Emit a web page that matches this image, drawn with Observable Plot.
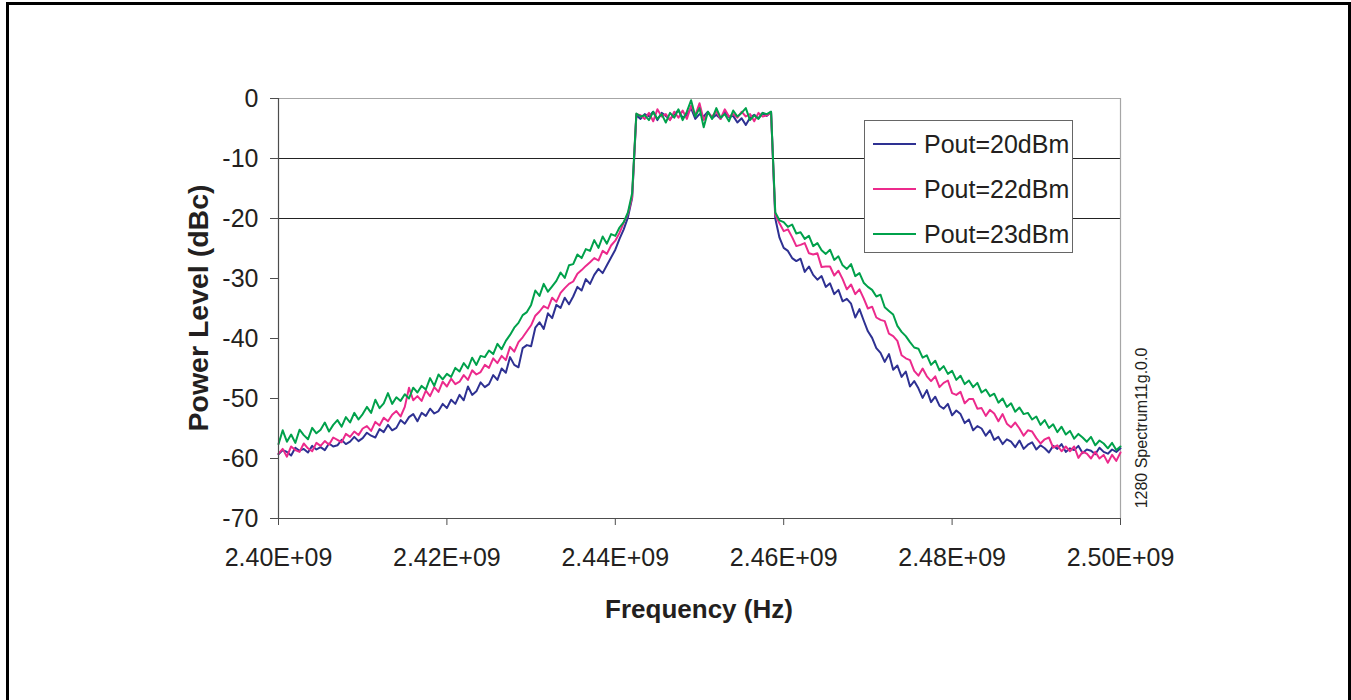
<!DOCTYPE html>
<html>
<head>
<meta charset="utf-8">
<script src="https://cdn.jsdelivr.net/npm/d3@7"></script>
<script src="https://cdn.jsdelivr.net/npm/@observablehq/plot@0.6"></script>
<style>
html, body { margin:0; padding:0; background:#fff; width:1351px; height:700px; overflow:hidden;
  font-family:"Liberation Sans", Arial, sans-serif; color:#231f20; }
#frame { position:absolute; left:6px; top:2px; width:1345px; height:720px; box-sizing:border-box;
  border:3px solid #000; border-bottom:none; }
#chart { position:absolute; left:0; top:0; }
.ttl { position:absolute; font-weight:bold; white-space:nowrap; line-height:30px; height:30px; }
#xtitle { left:699px; top:594px; font-size:26px; transform:translateX(-50%); }
#ytitle { left:198px; top:307.5px; font-size:28.5px; transform:translate(-50%,-50%) rotate(-90deg); }
#side { position:absolute; left:1142px; top:427.5px; font-size:16px; line-height:20px; white-space:nowrap;
  transform:translate(-50%,-50%) rotate(-90deg); }
#legend { position:absolute; left:864px; top:120px; width:209px; height:133px; box-sizing:border-box;
  border:1.5px solid #666; background:#fff; }
.lg-line { position:absolute; height:2px; width:43px; }
.lg-text { position:absolute; font-size:25px; line-height:30px; height:30px; white-space:nowrap; }
</style>
</head>
<body>
<div id="chart"></div>
<div id="frame"></div>
<div class="ttl" id="xtitle"></div>
<div class="ttl" id="ytitle"></div>
<div id="side"></div>
<div id="legend"></div>
<script>
// ---- Data ----
const seriesNames = ["Pout=20dBm", "Pout=22dBm", "Pout=23dBm"];
const seriesColors = ["#2e3192", "#ec2a8c", "#00a14b"];
const freqStart = 2.40e9;   // first sample (Hz)
const freqStep = 0.5e6;     // sample spacing (Hz)
const xTicks = [2.40e9, 2.42e9, 2.44e9, 2.46e9, 2.48e9, 2.50e9];
const yTicks = [0, -10, -20, -30, -40, -50, -60, -70];
const gridLevels = [-10, -20];
const xTitle = "Frequency (Hz)";
const yTitle = "Power Level (dBc)";
const sideNote = "1280 Spectrum11g.0.0";

// Pout = 20 dBm (dBc), 2.4000 .. 2.5000 GHz every 0.5 MHz
const pout20 = [
  -59.3,-58.6,-58.9,-59.5,-58.2,-58.7,-58.4,-59.0,-57.9,-58.5,
  -58.1,-58.6,-57.5,-58.0,-57.8,-56.9,-57.6,-57.2,-56.4,-57.1,
  -56.6,-55.7,-56.2,-56.5,-55.1,-55.6,-54.4,-55.3,-54.9,-53.6,
  -54.2,-53.1,-52.6,-53.8,-52.4,-52.9,-51.7,-52.5,-52.1,-50.9,
  -51.6,-50.2,-50.9,-49.4,-50.3,-48.0,-49.4,-48.8,-47.3,-48.1,
  -47.6,-46.1,-46.9,-45.0,-45.7,-43.1,-44.4,-44.8,-41.6,-41.1,
  -41.3,-38.2,-37.3,-38.4,-35.8,-36.6,-34.4,-34.9,-33.2,-34.3,
  -33.0,-31.4,-32.0,-30.1,-30.9,-29.4,-28.4,-29.1,-27.8,-26.5,
  -25.2,-23.4,-21.8,-19.8,-16.6,
  -2.8,-3.4,-2.6,-3.0,-2.2,-3.6,-2.4,-2.9,-3.5,-2.6,-2.0,-3.2,-2.8,-1.6,-3.4,-2.6,-3.0,
  -2.2,-3.3,-2.7,-3.4,-2.2,-3.1,-2.9,-4.0,-3.3,-4.4,-3.2,-2.7,-3.3,-2.4,-2.9,-2.2,
  -20.0,-23.2,-24.9,-25.4,-26.6,-27.1,-26.7,-28.9,-28.0,-29.4,
  -30.2,-29.6,-31.4,-30.8,-32.6,-31.9,-33.8,-33.4,-34.2,-36.5,
  -35.1,-37.0,-38.8,-39.9,-41.6,-42.4,-43.9,-42.6,-45.2,-44.5,
  -46.4,-45.5,-48.0,-47.1,-48.3,-49.9,-48.6,-50.6,-49.7,-51.2,
  -51.7,-50.9,-52.8,-52.0,-52.6,-54.1,-53.5,-55.3,-54.6,-55.0,
  -56.2,-55.3,-56.9,-56.4,-57.6,-56.8,-57.2,-58.1,-57.0,-58.4,
  -57.7,-57.3,-58.5,-57.8,-58.3,-59.0,-57.9,-58.4,-57.6,-58.9,
  -58.3,-58.6,-57.9,-59.1,-58.5,-58.7,-59.3,-58.2,-58.9,-59.2,
  -58.5,-58.9,-58.3
];

// Pout = 22 dBm
const pout22 = [
  -59.2,-58.4,-59.7,-58.0,-58.6,-58.9,-57.5,-58.3,-58.8,-57.4,
  -57.9,-57.1,-57.7,-56.5,-56.9,-57.3,-55.9,-56.4,-55.5,-56.1,
  -55.0,-54.6,-55.4,-53.9,-54.5,-53.2,-53.8,-52.7,-52.1,-53.0,
  -51.4,-48.2,-50.3,-49.6,-50.4,-48.7,-49.6,-48.1,-48.9,-47.2,
  -48.0,-46.7,-47.6,-47.2,-46.1,-46.9,-45.3,-46.0,-45.6,-44.4,
  -44.9,-43.3,-44.1,-42.9,-43.6,-41.4,-42.2,-40.6,-39.8,-38.8,
  -37.8,-36.2,-35.5,-34.6,-35.0,-33.2,-33.9,-32.4,-31.6,-30.9,
  -30.5,-29.2,-28.6,-27.9,-27.3,-26.6,-27.0,-25.4,-25.9,-24.5,
  -23.7,-22.4,-20.7,-19.2,-16.4,
  -2.6,-2.8,-3.4,-2.4,-3.8,-1.8,-3.0,-2.6,-3.6,-2.2,-3.2,-2.0,-3.4,-1.2,-2.8,-0.8,-3.6,
  -2.4,-3.0,-2.2,-3.4,-1.8,-3.0,-2.6,-3.2,-2.2,-3.0,-2.6,-3.8,-2.4,-3.0,-2.8,-2.4,
  -19.4,-20.8,-22.1,-21.8,-23.1,-24.6,-24.4,-24.1,-25.8,-26.0,
  -25.8,-28.1,-28.0,-28.0,-29.5,-28.7,-30.1,-31.8,-31.0,-32.6,
  -31.8,-33.3,-35.0,-34.7,-36.5,-36.9,-37.1,-39.2,-39.6,-40.4,
  -42.8,-43.3,-43.6,-45.4,-46.2,-45.0,-46.3,-47.1,-46.3,-48.1,
  -47.4,-47.0,-49.1,-49.4,-48.9,-50.8,-50.1,-50.1,-51.7,-51.6,
  -52.9,-51.9,-52.5,-53.8,-52.6,-54.2,-54.8,-54.0,-55.0,-56.2,
  -55.3,-55.5,-56.6,-57.5,-56.8,-56.5,-58.2,-57.8,-58.8,-58.0,
  -58.8,-58.0,-59.9,-58.9,-59.2,-60.0,-58.9,-60.0,-59.4,-60.7,
  -59.4,-60.4,-59.0
];

// Pout = 23 dBm
const pout23 = [
  -57.6,-55.3,-57.2,-56.0,-57.4,-55.2,-56.1,-56.8,-54.9,-55.8,
  -55.2,-54.0,-55.5,-54.4,-53.6,-54.7,-53.1,-54.0,-52.4,-53.5,
  -52.6,-51.4,-52.4,-50.2,-51.6,-50.8,-49.1,-50.9,-49.8,-50.4,
  -49.3,-50.0,-48.2,-49.0,-47.9,-48.5,-46.6,-47.9,-46.0,-46.8,
  -45.9,-46.4,-44.9,-45.5,-44.1,-45.0,-43.2,-44.4,-42.9,-43.1,
  -42.0,-42.6,-40.9,-41.8,-40.4,-39.4,-38.2,-37.4,-36.1,-35.6,
  -34.4,-32.0,-32.9,-30.9,-32.2,-31.3,-30.4,-29.0,-29.9,-27.8,
  -27.6,-26.0,-26.6,-25.1,-25.4,-23.6,-24.9,-23.0,-24.2,-22.6,
  -22.9,-21.5,-20.6,-19.0,-15.8,
  -2.5,-3.0,-2.8,-3.6,-2.2,-3.4,-2.6,-4.0,-2.4,-3.2,-1.8,-3.6,-2.2,-0.3,-3.0,-1.6,-4.8,
  -2.2,-3.4,-1.6,-3.2,-2.6,-3.8,-2.0,-3.0,-2.4,-1.6,-3.6,-2.8,-3.4,-2.4,-2.6,-2.2,
  -19.0,-20.3,-20.6,-21.4,-21.0,-22.5,-22.3,-23.4,-22.9,-24.6,
  -24.1,-25.3,-25.9,-25.2,-26.9,-26.3,-27.8,-28.4,-27.6,-29.6,
  -29.1,-30.7,-31.4,-31.9,-33.0,-32.7,-34.8,-35.4,-36.0,-37.9,
  -38.9,-39.6,-40.6,-41.5,-41.7,-43.2,-42.8,-44.4,-43.7,-45.3,
  -44.6,-45.9,-45.4,-46.9,-46.2,-47.6,-47.0,-48.1,-47.4,-49.0,
  -48.5,-49.6,-49.2,-50.7,-50.0,-51.4,-50.8,-52.2,-51.5,-52.6,
  -52.4,-53.5,-53.0,-54.4,-53.6,-54.9,-54.3,-55.6,-54.7,-56.0,
  -55.4,-56.7,-55.9,-56.5,-57.2,-56.4,-57.8,-57.0,-57.5,-58.3,
  -57.4,-58.6,-58.0
];

// ---- Build table ----
const seriesValues = [pout20, pout22, pout23];
const rows = [];
seriesValues.forEach((vals, s) => {
  vals.forEach((v, i) => rows.push({ freq: freqStart + i * freqStep, level: v, name: seriesNames[s] }));
});

const axisColor = "#4d4d4d";
const textColor = "#231f20";

const chart = Plot.plot({
  width: 1351,
  height: 700,
  marginLeft: 278,
  marginRight: 231,
  marginTop: 98,
  marginBottom: 182,
  style: { fontFamily: "'Liberation Sans', Arial, sans-serif", fontSize: "25px", background: "transparent", color: textColor },
  x: { domain: [xTicks[0], xTicks[xTicks.length - 1]] },
  y: { domain: [yTicks[yTicks.length - 1], yTicks[0]] },
  color: { domain: seriesNames, range: seriesColors },
  marks: [
    Plot.ruleY(gridLevels, { stroke: "#222", strokeWidth: 1 }),
    Plot.ruleY([yTicks[0]], { stroke: "#a6a6a6", strokeWidth: 1.2 }),
    Plot.ruleX([xTicks[xTicks.length - 1]], { stroke: "#a6a6a6", strokeWidth: 1.2 }),
    Plot.lineY(rows, { x: "freq", y: "level", z: "name", stroke: "name", strokeWidth: 2, strokeLinejoin: "round" }),
    Plot.ruleX([xTicks[0]], { stroke: axisColor, strokeWidth: 1.2 }),
    Plot.ruleY([yTicks[yTicks.length - 1]], { stroke: axisColor, strokeWidth: 1.2 }),
    Plot.axisX({ ticks: xTicks, tickFormat: d => (d / 1e9).toFixed(2) + "E+09", tickSize: 7, tickPadding: 23,
      stroke: axisColor, fill: textColor, label: null }),
    Plot.axisY({ ticks: yTicks, tickFormat: d => String(d), tickSize: 8, tickPadding: 12,
      stroke: axisColor, fill: textColor, label: null })
  ]
});
document.getElementById("chart").appendChild(chart);

document.getElementById("xtitle").textContent = xTitle;
document.getElementById("ytitle").textContent = yTitle;
document.getElementById("side").textContent = sideNote;

// Legend
const legend = document.getElementById("legend");
const legendRowY = [23.3, 68.3, 113.3]; // centre of each row inside the box
seriesNames.forEach((name, i) => {
  const ln = document.createElement("div");
  ln.className = "lg-line";
  ln.style.left = "8px";
  ln.style.top = (legendRowY[i] - 1) + "px";
  ln.style.background = seriesColors[i];
  legend.appendChild(ln);
  const tx = document.createElement("div");
  tx.className = "lg-text";
  tx.style.left = "59px";
  tx.style.top = (legendRowY[i] - 15) + "px";
  tx.textContent = name;
  legend.appendChild(tx);
});
</script>
</body>
</html>
